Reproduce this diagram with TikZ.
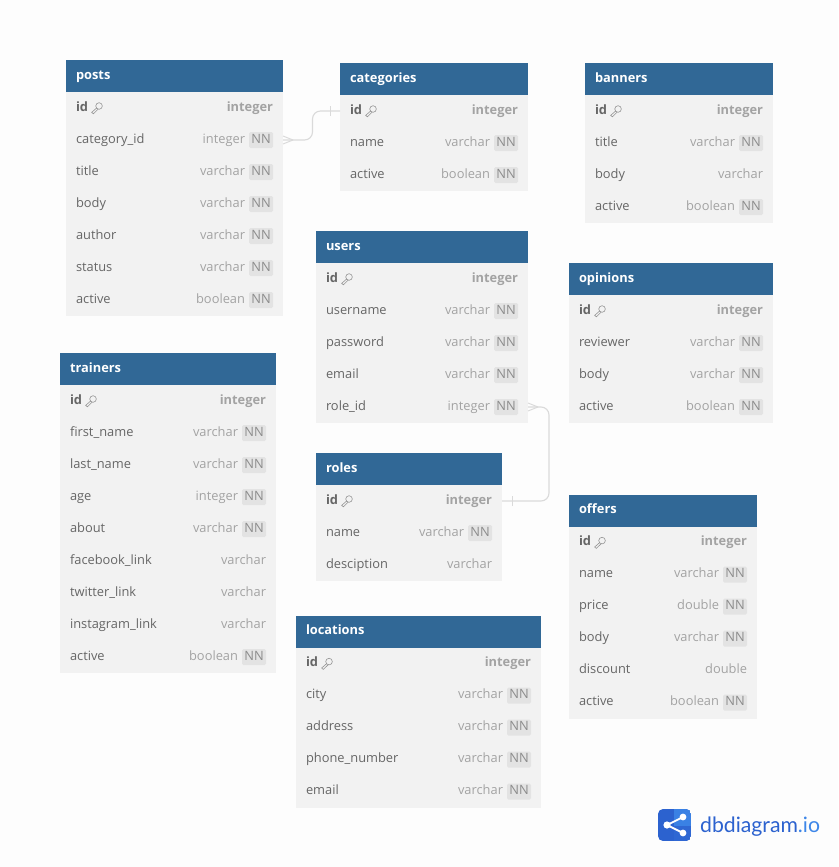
\documentclass[tikz,border=0pt]{standalone}
\usepackage{fontspec}
\setmainfont{Open Sans}
\newfontfamily\logofont{Lato}
\definecolor{pagebg}{HTML}{FDFDFD}
\definecolor{headbg}{HTML}{316896}
\definecolor{rowbg}{HTML}{F2F2F2}
\definecolor{nametx}{HTML}{666666}
\definecolor{typetx}{HTML}{A3A3A3}
\definecolor{nnbg}{HTML}{E3E3E3}
\definecolor{nntx}{HTML}{8C8C8C}
\definecolor{linkc}{HTML}{DADADA}
\definecolor{logoa}{HTML}{2C62CF}
\definecolor{logob}{HTML}{3D86E8}
\tikzset{
  x=1pt,y=-1pt,
  base/.style={inner sep=0pt,outer sep=0pt,text height=9.5pt,text depth=3pt,font=\fontsize{12.85}{15}\selectfont},
  headbox/.style={draw=none,fill=headbg,inner sep=0pt,outer sep=0pt,minimum height=32pt,anchor=north west},
  rowbox/.style={draw=none,fill=rowbg,inner sep=0pt,outer sep=0pt,minimum height=32pt,anchor=north west},
  headtext/.style={base,text=white,anchor=west,font=\fontsize{12.85}{15}\selectfont\bfseries},
  fname/.style={base,text=nametx,anchor=west},
  ftype/.style={base,text=typetx,anchor=east},
  nnbox/.style={base,fill=nnbg,text=nntx,rounded corners=1.5pt,minimum width=24pt,minimum height=16pt,text height=9pt,text depth=2.5pt,anchor=east,align=center},
  keyicon/.style={draw=nametx!70,line width=0.6pt},
  link/.style={draw=linkc,line width=1.1pt,rounded corners=8pt},
  tickline/.style={draw=linkc,line width=1pt},
}
\newcommand{\dbtable}[6]{%
  \node[headbox,minimum width=#4pt] (#1-h) at (#2,#3) {};
  \node[headtext] (#1-t) at ([xshift=10pt]#1-h.west) {#5};
  \foreach \fn/\ft/\ff [count=\i] in {#6}{%
    \pgfmathsetmacro{\rowy}{#3+32*\i}
    \node[rowbox,minimum width=#4pt] (#1-\i) at (#2,\rowy) {};
    \if k\ff
      \node[fname,font=\fontsize{12.85}{15}\selectfont\bfseries] (#1-\i-n) at ([xshift=10pt]#1-\i.west) {\fn};
      \node[ftype,font=\fontsize{12.85}{15}\selectfont\bfseries] (#1-\i-y) at ([xshift=-10pt]#1-\i.east) {\ft};
      \begin{scope}[shift={([xshift=3pt]#1-\i-n.east)},keyicon]
        \draw (8,-2) circle (3.3pt);
        \draw (5.6,0) -- (0.6,4.4) -- (2.3,5.8) -- (7,1.2);
      \end{scope}
    \else
      \node[fname] (#1-\i-n) at ([xshift=10pt]#1-\i.west) {\fn};
      \if n\ff
        \node[nnbox] (#1-\i-b) at ([xshift=-10pt]#1-\i.east) {NN};
        \node[ftype] (#1-\i-y) at ([xshift=-4pt]#1-\i-b.west) {\ft};
      \else
        \node[ftype] (#1-\i-y) at ([xshift=-10pt]#1-\i.east) {\ft};
      \fi
    \fi
  }%
}
\begin{document}
\begin{tikzpicture}
\useasboundingbox (0,0) rectangle (838,867);
\fill[pagebg] (0,0) rectangle (838,867);

\dbtable{posts}{66}{60}{217}{posts}{id/integer/k,category\_id/integer/n,title/varchar/n,body/varchar/n,author/varchar/n,status/varchar/n,active/boolean/n}
\dbtable{categories}{340}{63}{188}{categories}{id/integer/k,name/varchar/n,active/boolean/n}
\dbtable{banners}{585}{63}{188}{banners}{id/integer/k,title/varchar/n,body/varchar/o,active/boolean/n}
\dbtable{users}{316}{231}{212}{users}{id/integer/k,username/varchar/n,password/varchar/n,email/varchar/n,role\_id/integer/n}
\dbtable{opinions}{569}{263}{204}{opinions}{id/integer/k,reviewer/varchar/n,body/varchar/n,active/boolean/n}
\dbtable{trainers}{60}{353}{216}{trainers}{id/integer/k,first\_name/varchar/n,last\_name/varchar/n,age/integer/n,about/varchar/n,facebook\_link/varchar/o,twitter\_link/varchar/o,instagram\_link/varchar/o,active/boolean/n}
\dbtable{roles}{316}{453}{186}{roles}{id/integer/k,name/varchar/n,desciption/varchar/o}
\dbtable{offers}{569}{494.6}{188}{offers}{id/integer/k,name/varchar/n,price/double/n,body/varchar/n,discount/double/o,active/boolean/n}
\dbtable{locations}{296}{615.6}{245}{locations}{id/integer/k,city/varchar/n,address/varchar/n,phone\_number/varchar/n,email/varchar/n}

% connectors
\draw[link] (posts-2.east) -- ([xshift=29.5pt]posts-2.east) |- (categories-1.west);
\draw[tickline] ([xshift=10pt]posts-2.east) -- ([yshift=-4pt]posts-2.east);
\draw[tickline] ([xshift=10pt]posts-2.east) -- ([yshift=4pt]posts-2.east);
\draw[tickline] ([xshift=-10pt,yshift=-5pt]categories-1.west) -- ([xshift=-10pt,yshift=5pt]categories-1.west);

\coordinate (bend) at (549,0);
\draw[link] (users-5.east) -| (bend |- roles-1.east) -- (roles-1.east);
\draw[tickline] ([xshift=10pt]users-5.east) -- ([yshift=-4pt]users-5.east);
\draw[tickline] ([xshift=10pt]users-5.east) -- ([yshift=4pt]users-5.east);
\draw[tickline] ([xshift=10pt,yshift=-5pt]roles-1.east) -- ([xshift=10pt,yshift=5pt]roles-1.east);

% logo
\begin{scope}
  \path[clip,rounded corners=5pt] (658,809) rectangle (691,841);
  \fill[logoa] (658,809) rectangle (691,841);
  \fill[logob!85!logoa] (674,809) rectangle (691,826);
  \fill[logoa!85!logob] (674,826) rectangle (691,841);
\end{scope}
\draw[white,line width=1.8pt] (683,817) -- (667,825) -- (683,833);
\fill[white] (683,817) circle (3.4pt) (667,825) circle (3.6pt) (683,833) circle (3.4pt);
\node[inner sep=0pt,anchor=base west,text=logoa,font=\logofont\fontsize{21.2}{24}\selectfont] (logo) at (700,832) {dbdiagram\textcolor{logob}{.io}};
\end{tikzpicture}
\end{document}
